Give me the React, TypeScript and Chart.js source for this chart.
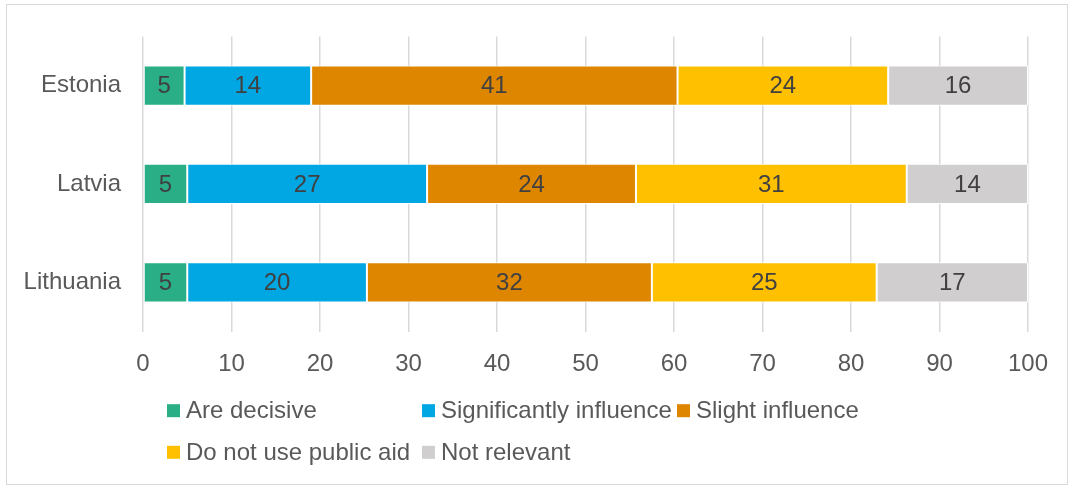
import React, { useEffect, useRef } from "react";
import { Chart, registerables } from "chart.js";

Chart.register(...registerables);

// Survey answers per country (shares in %, rounded in the bar labels)
const categories = ["Estonia", "Latvia", "Lithuania"];
const seriesNames = [
  "Are decisive",
  "Significantly influence",
  "Slight influence",
  "Do not use public aid",
  "Not relevant",
];
const areDecisive = [4.7, 5.0, 5.0];
const significantlyInfluence = [14.3, 27.1, 20.3];
const slightInfluence = [41.4, 23.6, 32.2];
const doNotUsePublicAid = [23.8, 30.6, 25.4];
const notRelevant = [15.8, 13.7, 17.1];
const xTicks = [0, 10, 20, 30, 40, 50, 60, 70, 80, 90, 100];

const seriesColors = ["#29AE86", "#00A7E2", "#DE8600", "#FFC000", "#D0CECE"];

const FONT_FAMILY = "'Liberation Sans', Arial, sans-serif";
const FONT_SIZE = 24;
const TEXT_COLOR = "#595959";
const LABEL_COLOR = "#404040";
const GRID_COLOR = "#D9D9D9";

// Value labels centred on every stacked segment
const segmentLabels = {
  id: "segmentLabels",
  afterDatasetsDraw(chart: any) {
    const ctx = chart.ctx;
    ctx.save();
    ctx.font = `${FONT_SIZE}px ${FONT_FAMILY}`;
    ctx.fillStyle = LABEL_COLOR;
    ctx.textAlign = "center";
    ctx.textBaseline = "middle";
    chart.data.datasets.forEach((ds: any, di: number) => {
      const meta = chart.getDatasetMeta(di);
      meta.data.forEach((bar: any, i: number) => {
        const v = ds.data[i];
        const cx = (bar.x + bar.base) / 2;
        ctx.fillText(String(Math.round(v)), cx, bar.y + 1);
      });
    });
    ctx.restore();
  },
};

// Two-row legend laid out in equal-width columns
const gridLegend = {
  id: "gridLegend",
  afterDraw(chart: any) {
    const ctx = chart.ctx;
    ctx.save();
    ctx.font = `${FONT_SIZE}px ${FONT_FAMILY}`;
    ctx.textBaseline = "middle";
    ctx.textAlign = "left";
    const box = 13;
    const textGap = 6;
    const colCount = 3;
    const colWidth = 255;
    const startX = 167;
    const rowY = [410.7, 452.3];
    chart.data.datasets.forEach((ds: any, i: number) => {
      const col = i % colCount;
      const row = Math.floor(i / colCount);
      const x = startX + col * colWidth;
      const y = rowY[row];
      ctx.fillStyle = ds.backgroundColor;
      ctx.fillRect(x, y - box / 2, box, box);
      ctx.fillStyle = TEXT_COLOR;
      ctx.fillText(ds.label, x + box + textGap, y + 1);
    });
    ctx.restore();
  },
};

export default function App() {
  const canvasRef = useRef<HTMLCanvasElement | null>(null);

  useEffect(() => {
    const canvas = canvasRef.current;
    if (!canvas) return;
    const values = [
      areDecisive,
      significantlyInfluence,
      slightInfluence,
      doNotUsePublicAid,
      notRelevant,
    ];
    const chart = new Chart(canvas, {
      type: "bar",
      data: {
        labels: categories,
        datasets: seriesNames.map((name, i) => ({
          label: name,
          data: values[i],
          backgroundColor: seriesColors[i],
          borderColor: "#FFFFFF",
          borderWidth: 1,
          borderSkipped: false,
          categoryPercentage: 0.41,
          barPercentage: 1,
        })),
      },
      options: {
        indexAxis: "y",
        responsive: false,
        animation: false,
        devicePixelRatio: 1,
        layout: { padding: { left: 0, top: 33, right: 42, bottom: 105.5 } },
        plugins: {
          legend: { display: false },
          tooltip: { enabled: false },
        },
        scales: {
          x: {
            stacked: true,
            min: 0,
            max: 100,
            afterBuildTicks(scale: any) {
              scale.ticks = xTicks.map((v) => ({ value: v }));
            },
            afterFit(scale: any) {
              scale.height = 50;
            },
            ticks: {
              color: TEXT_COLOR,
              font: { family: FONT_FAMILY, size: FONT_SIZE },
              padding: 18,
              maxRotation: 0,
            },
            grid: {
              color: GRID_COLOR,
              lineWidth: 1.5,
              drawTicks: false,
            },
            border: { display: false },
          },
          y: {
            stacked: true,
            afterFit(scale: any) {
              scale.width = 143;
            },
            ticks: {
              color: TEXT_COLOR,
              font: { family: FONT_FAMILY, size: FONT_SIZE },
              padding: 22,
            },
            grid: { display: false, drawTicks: false },
            border: { display: false },
          },
        },
      },
      plugins: [segmentLabels, gridLegend],
    });
    return () => chart.destroy();
  }, []);

  return (
    <div
      style={{
        position: "fixed",
        left: 0,
        top: 0,
        width: 1070,
        height: 487,
        background: "#FFFFFF",
      }}
    >
      <canvas
        ref={canvasRef}
        width={1070}
        height={487}
        style={{ position: "absolute", left: 0, top: 0, width: 1070, height: 487 }}
      />
      <div
        style={{
          position: "absolute",
          left: 6,
          top: 4,
          width: 1062,
          height: 481,
          boxSizing: "border-box",
          border: "1.5px solid #D9D9D9",
          pointerEvents: "none",
        }}
      />
    </div>
  );
}
